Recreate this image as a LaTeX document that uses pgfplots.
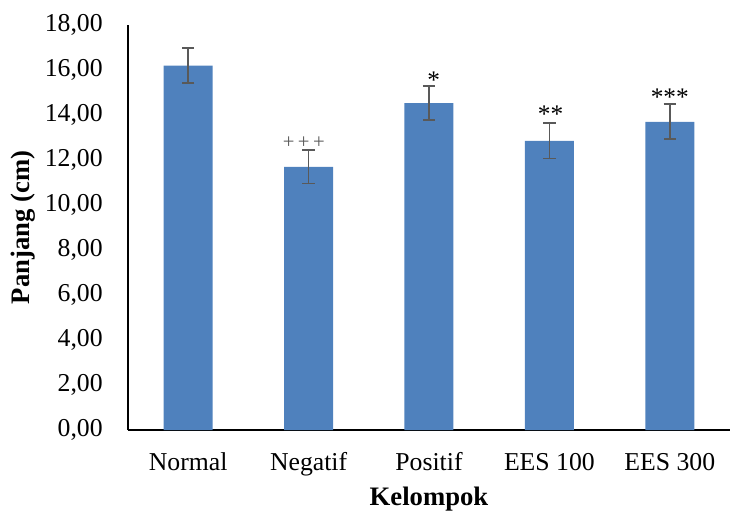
\documentclass[border=0pt]{standalone}
\usepackage{pgfplots}
\pgfplotsset{compat=1.18}
\usepackage{fontspec}
\setmainfont{Liberation Serif}
\definecolor{barblue}{HTML}{4F81BD}
\definecolor{errgray}{HTML}{595959}
\begin{document}
\begin{tikzpicture}
\useasboundingbox (-96pt,-61.5pt) rectangle (453.75pt,322.5pt);
\begin{axis}[
  scale only axis,
  width=451.5pt, height=303.75pt,
  at={(0,0)}, anchor=south west,
  xmin=-0.5, xmax=4.5,
  ymin=0, ymax=18,
  ytick={0,2,...,18},
  xtick={0,1,2,3,4},
  xticklabels={Normal,Negatif,Positif,EES 100,EES 300},
  axis x line*=bottom, axis y line*=left,
  axis line style={-, black, line width=0.9pt},
  major tick length=0pt,
  tick style={draw=none},
  ticklabel style={font=\fontsize{19.3}{21}\selectfont},
  /pgf/number format/assume math mode=true,
  yticklabel={\pgfmathprintnumber[fixed,fixed zerofill,precision=2,use comma]{\tick}},
  yticklabel style={anchor=east, inner sep=0pt, xshift=-18.75pt},
  xticklabel style={anchor=base, inner sep=0pt, yshift=-30pt},
  ylabel={Panjang (cm)},
  xlabel={Kelompok},
  label style={font=\fontsize{20}{22}\selectfont\bfseries},
  ylabel style={at={([xshift=-78.75pt]axis description cs:0,0.5)}, anchor=center, inner sep=0pt},
  xlabel style={at={([yshift=-51.75pt]axis description cs:0.5,0)}, anchor=center, inner sep=0pt},
  clip=false,
]
\addplot[ybar, bar width=36.75pt, fill=barblue, draw=none,
  error bars/.cd, y dir=both, y explicit,
  error bar style={errgray, line width=1.3pt},
  error mark options={rotate=90, mark size=4.6pt, line width=1.3pt, errgray}]
  coordinates {
  (0,16.20) +- (0,0.78)
  (1,11.70) +- (0,0.75)
  (2,14.53) +- (0,0.76)
  (3,12.85) +- (0,0.78)
  (4,13.70) +- (0,0.78)
  };
\node[anchor=center, font=\fontsize{15.5}{16}\selectfont, text=errgray, inner sep=0pt] at (axis cs:0.96,12.78) {+\,+\,+};
\node[anchor=center, font=\fontsize{19}{20}\selectfont, inner sep=0pt] at (axis cs:2.04,15.56) {*};
\node[anchor=center, font=\fontsize{19}{20}\selectfont, inner sep=0pt] at (axis cs:3.01,14.05) {**};
\node[anchor=center, font=\fontsize{19}{20}\selectfont, inner sep=0pt] at (axis cs:4,14.81) {***};
\end{axis}
\end{tikzpicture}
\end{document}
